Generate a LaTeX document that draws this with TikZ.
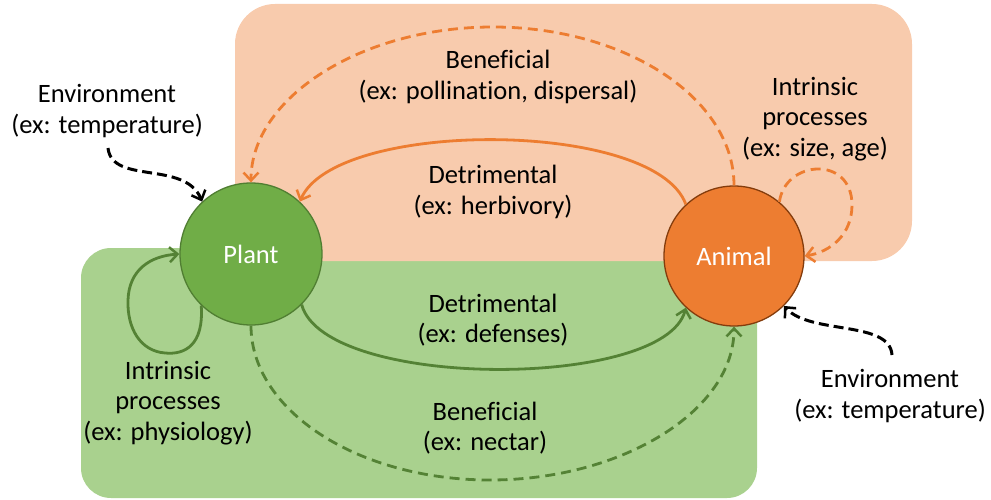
\documentclass[tikz,border=0pt]{standalone}
\usepackage{fontspec}
\setmainfont{Carlito}[Ligatures=NoCommon]
\usetikzlibrary{arrows.meta}
\definecolor{obg}{HTML}{F8CBAD}
\definecolor{gbg}{HTML}{A9D18E}
\definecolor{pfill}{HTML}{70AD47}
\definecolor{pline}{HTML}{507E32}
\definecolor{afill}{HTML}{ED7D31}
\definecolor{aline}{HTML}{843C0C}
\definecolor{oarr}{HTML}{ED7D31}
\definecolor{garr}{HTML}{548235}
\begin{document}
\begin{tikzpicture}[x=1pt,y=-1pt,
  lbl/.style={align=center, font=\fontsize{26.5}{30.5}\selectfont, inner sep=0pt},
  circ/.style={circle, inner sep=0pt, line width=1.3pt, text=white, font=\fontsize{26.5}{30}\selectfont},
  arr/.style={line width=2.8pt, -{Straight Barb[length=8pt,width=15pt,line width=2.5pt]}},
  dsh/.style={dash pattern=on 10pt off 6pt},
  dshk/.style={line width=3pt, dash pattern=on 10pt off 5pt}
]
\useasboundingbox (0,0) rectangle (991,500);
% backgrounds
\fill[gbg, rounded corners=30pt] (81,248) rectangle (757,498);
\fill[obg, rounded corners=40pt] (235,4) rectangle (912,261);
% circles
\node[circ, minimum size=142pt, fill=pfill, draw=pline] (Plant) at (251,254) {Plant};
\node[circ, minimum size=140pt, fill=afill, draw=aline] (Animal) at (734,256) {Animal};
% labels
\node[lbl] (envL) at (107,111) {Environment\\(ex: temperature)};
\node[lbl] (benT) at (498,77) {Beneficial\\(ex: pollination, dispersal)};
\node[lbl] (intT) at (815,119) {Intrinsic\\processes\\(ex: size, age)};
\node[lbl] (detT) at (493,192) {Detrimental\\(ex: herbivory)};
\node[lbl] (detB) at (493,320) {Detrimental\\(ex: defenses)};
\node[lbl] (benB) at (485,428) {Beneficial\\(ex: nectar)};
\node[lbl] (intB) at (168,403) {Intrinsic\\processes\\(ex: physiology)};
\node[lbl] (envR) at (890,396) {Environment\\(ex: temperature)};
% free ends
\coordinate (envLs) at (108,148);
\coordinate (envRs) at (892,355);
% connectors
\draw[arr, oarr, dsh] (Animal.north) .. controls (734,98) and (625,27) .. (493,27) .. controls (361,27) and (251,98) .. (Plant.north);
\draw[arr, oarr] (Animal.133) .. controls (655,119) and (335,119) .. (Plant.47);
\draw[arr, garr] (Plant.-45) .. controls (325,390) and (665,390) .. (Animal.227);
\draw[arr, garr, dsh] (Plant.south) .. controls (251,410) and (357,480) .. (490,480) .. controls (623,480) and (734,410) .. (Animal.south);
\draw[arr, garr] (Plant.226) .. controls (204,345) and (185,355) .. (165,353) .. controls (140,351) and (127,328) .. (128,300) .. controls (129,270) and (150,256) .. (Plant.west);
\draw[arr, oarr, dsh] (Animal.50) .. controls (785,160) and (852,155) .. (852,205) .. controls (852,235) and (830,252) .. (Animal.east);
\draw[arr, black, dshk] (envLs) .. controls (112,185) and (185,160) .. (Plant.133);
\draw[arr, black, dshk] (envRs) .. controls (890,320) and (810,335) .. (Animal.-45);
\end{tikzpicture}
\end{document}
